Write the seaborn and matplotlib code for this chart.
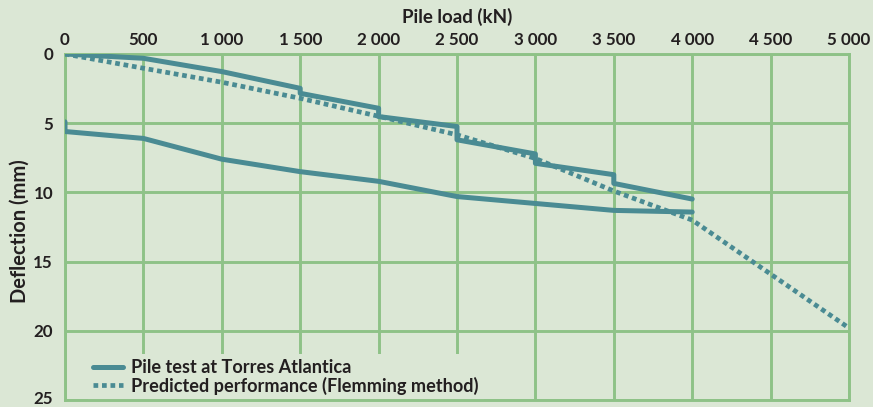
import matplotlib
matplotlib.use("Agg")
import matplotlib.pyplot as plt
import matplotlib.transforms as mtransforms
import seaborn as sns
import pandas as pd

# ---- data ----
load_test_up = [0, 500, 1000, 1500, 1500, 2000, 2000, 2500, 2500, 3000, 3000, 3500, 3500, 4000]
defl_test_up = [0, 0.31, 1.27, 2.48, 2.84, 3.92, 4.52, 5.24, 6.2, 7.22, 7.9, 8.72, 9.35, 10.48]
load_test_down = [4000, 3500, 3000, 2500, 2000, 1500, 1000, 500, 0, 0]
defl_test_down = [11.42, 11.3, 10.8, 10.3, 9.2, 8.5, 7.6, 6.1, 5.6, 4.9]
load_pred = [0, 500, 1000, 1500, 2000, 2500, 3000, 3500, 4000, 4500, 5000]
defl_pred = [0, 1.03, 2.04, 3.2, 4.5, 5.84, 7.55, 9.9, 12.0, 15.9, 19.8]

x_ticks = [0, 500, 1000, 1500, 2000, 2500, 3000, 3500, 4000, 4500, 5000]
x_tick_labels = ["0", "500", "1 000", "1 500", "2 000", "2 500", "3 000", "3 500", "4 000", "4 500", "5 000"]
y_ticks = [0, 5, 10, 15, 20, 25]
y_tick_labels = ["0", "5", "10", "15", "20", "25"]
x_title = "Pile load (kN)"
y_title = "Deflection (mm)"
label_test = "Pile test at Torres Atlantica"
label_pred = "Predicted performance (Flemming method)"

BG = "#dbe7d5"
GRID = "#8ec287"
LINE = "#4a8b93"
TXT = "#231f20"
FAM = ["Lato", "DejaVu Sans"]

sns.set_style("white")
plt.rcParams["font.family"] = FAM
plt.rcParams["font.weight"] = "bold"

fig = plt.figure(figsize=(8.73, 4.07), dpi=100, facecolor=BG)
ax = fig.add_axes([65 / 873, 7 / 407, (849 - 65) / 873, (400 - 54) / 407])
ax.set_facecolor(BG)

renderer = fig.canvas.get_renderer()


def fit_size(text, target_px, base=12.0):
    t = fig.text(0, 0, text, fontsize=base, fontweight="bold", family=FAM)
    w = t.get_window_extent(renderer).width
    t.remove()
    return base * target_px / w


fs_tick = fit_size("5 000", 43.5)
fs_xlab = fit_size(x_title, 110)
fs_ylab = fit_size(y_title, 143)
fs_leg = fit_size(label_test, 219)

df_up = pd.DataFrame({"load": load_test_up, "defl": defl_test_up})
df_down = pd.DataFrame({"load": load_test_down, "defl": defl_test_down})
df_pred = pd.DataFrame({"load": load_pred, "defl": defl_pred})

sns.lineplot(data=df_up, x="load", y="defl", sort=False, estimator=None, ax=ax,
             color=LINE, linewidth=3.6, label=label_test, zorder=3)
ax.lines[-1].set_solid_joinstyle("round")
sns.lineplot(data=df_down, x="load", y="defl", sort=False, estimator=None, ax=ax,
             color=LINE, linewidth=3.6, zorder=3)
ax.lines[-1].set_solid_joinstyle("round")
sns.lineplot(data=df_pred, x="load", y="defl", sort=False, estimator=None, ax=ax,
             color=LINE, linewidth=3.4, label=label_pred, zorder=3)
ax.lines[-1].set_linestyle((0, (1, 0.8)))
ax.lines[-1].set_dash_capstyle("butt")

ax.set_xlim(0, 5000)
ax.set_ylim(25, 0)
ax.xaxis.tick_top()
ax.xaxis.set_label_position("top")
ax.set_xticks(x_ticks)
ax.set_xticklabels(x_tick_labels)
ax.set_yticks(y_ticks)
ax.set_yticklabels(y_tick_labels)
ax.tick_params(axis="both", length=0, labelsize=fs_tick, labelcolor=TXT)
ax.tick_params(axis="x", pad=4.5)
ax.tick_params(axis="y", pad=8.6)

# keep the bottom-most y label fully inside the figure
last = ax.get_yticklabels()[-1]
last.set_transform(last.get_transform() +
                   mtransforms.ScaledTranslation(0, 3 / 100, fig.dpi_scale_trans))

ax.set_xlabel(x_title, fontsize=fs_xlab, fontweight="bold", color=TXT)
ax.xaxis.set_label_coords(0.5, 1 + (353 - (407 - 16.5)) / -346)
ax.xaxis.label.set_va("center")
ax.set_ylabel(y_title, fontsize=fs_ylab, fontweight="bold", color=TXT)
ax.yaxis.set_label_coords((20 - 65) / 784, 0.487)
ax.yaxis.label.set_va("center")

ax.grid(True, color=GRID, linewidth=2.1, zorder=1)
ax.set_axisbelow(True)
for s in ax.spines.values():
    s.set_color(GRID)
    s.set_linewidth(2.1)
    s.set_zorder(2.5)

leg = ax.legend(loc="lower left", bbox_to_anchor=((87.5 - 65) / 784, 0.0), fontsize=fs_leg,
                frameon=True, facecolor=BG, edgecolor="none", framealpha=1,
                handlelength=1.65, handletextpad=0.45, labelspacing=0.0,
                borderpad=0.3, borderaxespad=0.0)
leg.get_frame().set_boxstyle("square", pad=0)
for t in leg.get_texts():
    t.set_color(TXT)
    t.set_fontweight("bold")
leg.set_zorder(2)

fig.savefig("out.png", dpi=100, facecolor=BG)
